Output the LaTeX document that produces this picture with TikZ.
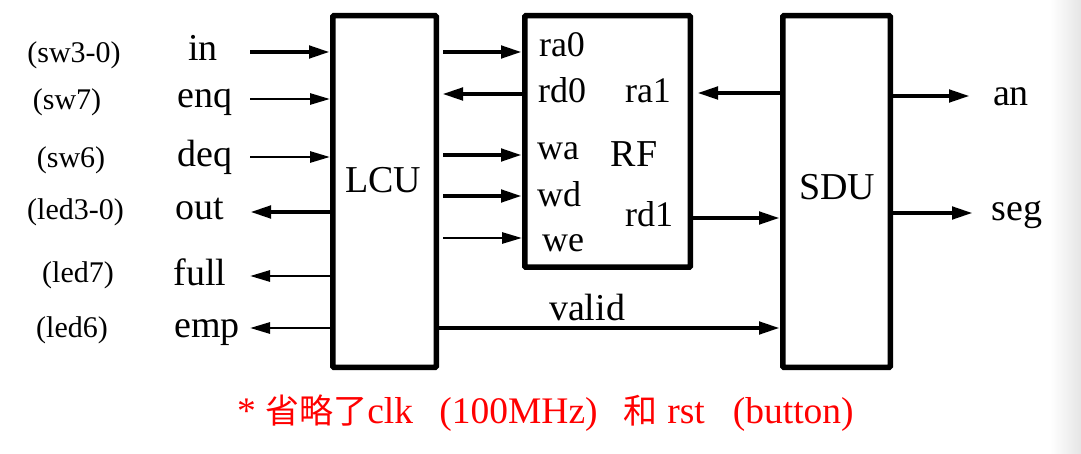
\documentclass[tikz,border=0pt]{standalone}
\usepackage{fontspec}
\setmainfont{Liberation Serif}
\newfontfamily\cjk{Noto Sans CJK SC}
\usetikzlibrary{arrows.meta}
\begin{document}
\begin{tikzpicture}[x=1pt,y=-1pt,
  blk/.style={draw, line width=5.5pt, rounded corners=1pt, inner sep=0},
  lab/.style={font=\fontsize{38}{40}\selectfont, inner sep=0, anchor=base},
  sml/.style={font=\fontsize{30}{32}\selectfont, inner sep=0, anchor=base},
  rfl/.style={font=\fontsize{36}{38}\selectfont, inner sep=0, anchor=base},
  thk/.style={line width=4.5pt, -{Triangle[length=21pt,width=12pt]}},
  thn/.style={line width=2.8pt, -{Triangle[length=20pt,width=11pt]}},
]
\useasboundingbox (0,0) rectangle (1081,454);
\shade[left color=white, right color=black!10] (1050,0) rectangle (1081,454);

% blocks
\node[blk, minimum width=103.5pt, minimum height=351.5pt] (lcu) at (384.5,191.5) {};
\node[blk, minimum width=165.5pt, minimum height=251.5pt] (rf) at (607.5,141.5) {};
\node[blk, minimum width=107.5pt, minimum height=351.5pt] (sdu) at (836.5,191.5) {};
\node[lab] (lcut) at (383,193) {LCU};
\node[lab] (sdut) at (837,200) {SDU};

% left side labels
\node[lab] (lin) at (203,61) {in};
\node[lab] (lenq) at (205,108) {enq};
\node[lab] (ldeq) at (205,167) {deq};
\node[lab] (lout) at (200,220) {out};
\node[lab] (lfull) at (200,285) {full};
\node[lab] (lemp) at (207,337) {emp};
\node[sml] (sin) at (74,63) {(sw3-0)};
\node[sml] (senq) at (67,110) {(sw7)};
\node[sml] (sdeq) at (71,168) {(sw6)};
\node[sml] (sout) at (75.5,220) {(led3-0)};
\node[sml] (sfull) at (78,283) {(led7)};
\node[sml] (semp) at (72,337) {(led6)};

% left side connectors
\coordinate (cin) at (250,52);
\coordinate (cenq) at (250,99);
\coordinate (cdeq) at (250,157);
\coordinate (cout) at (250,212);
\coordinate (cfull) at (250,276);
\coordinate (cemp) at (250,328);
\draw[thk] (cin) -- (cin -| lcu.west);
\draw[thn] (cenq) -- (cenq -| lcu.west);
\draw[thn] (cdeq) -- (cdeq -| lcu.west);
\draw[thk] (cout -| lcu.west) -- (cout);
\draw[thn] (cfull -| lcu.west) -- (cfull);
\draw[thn] (cemp -| lcu.west) -- (cemp);

% RF labels
\node[rfl] (tra0) at (562,57) {ra0};
\node[rfl] (trd0) at (562,103) {rd0};
\node[rfl] (twa) at (558,160) {wa};
\node[rfl] (twd) at (559,207) {wd};
\node[rfl] (twe) at (563,252) {we};
\node[rfl] (tra1) at (648,103) {ra1};
\node[lab] (trf) at (634,167) {RF};
\node[rfl] (trd1) at (649,227) {rd1};

% LCU - RF connectors
\draw[thk, shorten <=4pt] (lcu.east |- 0,52) -- (rf.west |- 0,52);
\draw[thk, shorten >=3pt] (rf.west |- 0,94) -- (lcu.east |- 0,94);
\draw[thk, shorten <=4pt] (lcu.east |- 0,155) -- (rf.west |- 0,155);
\draw[thk, shorten <=4pt] (lcu.east |- 0,196) -- (rf.west |- 0,196);
\draw[thn, shorten <=4pt] (lcu.east |- 0,238) -- (rf.west |- 0,238);

% RF - SDU
\draw[thk, shorten >=4pt] (sdu.west |- 0,93) -- (rf.east |- 0,93);
\draw[thk] (rf.east |- 0,218) -- (sdu.west |- 0,218);
\draw[thk] (lcu.east |- 0,328) -- (sdu.west |- 0,328);
\node[lab] (tvalid) at (587,320) {valid};

% SDU outputs
\coordinate (can) at (970,96);
\coordinate (cseg) at (973,213);
\draw[thk] (can -| sdu.east) -- (can);
\draw[thk] (cseg -| sdu.east) -- (cseg);
\node[lab] (tan) at (1011,106) {an};
\node[lab] (tseg) at (1017,221) {seg};

% note
\node[font=\fontsize{37.5}{39}\selectfont, text=red, inner sep=0, anchor=base west] (note) at (237,423)
  {* {\cjk\fontsize{34}{36}\selectfont 省略了}clk\hspace{0.7em}(100MHz)\hspace{0.7em}{\cjk\fontsize{34}{36}\selectfont 和} rst\hspace{0.75em}(button)};
\end{tikzpicture}
\end{document}
